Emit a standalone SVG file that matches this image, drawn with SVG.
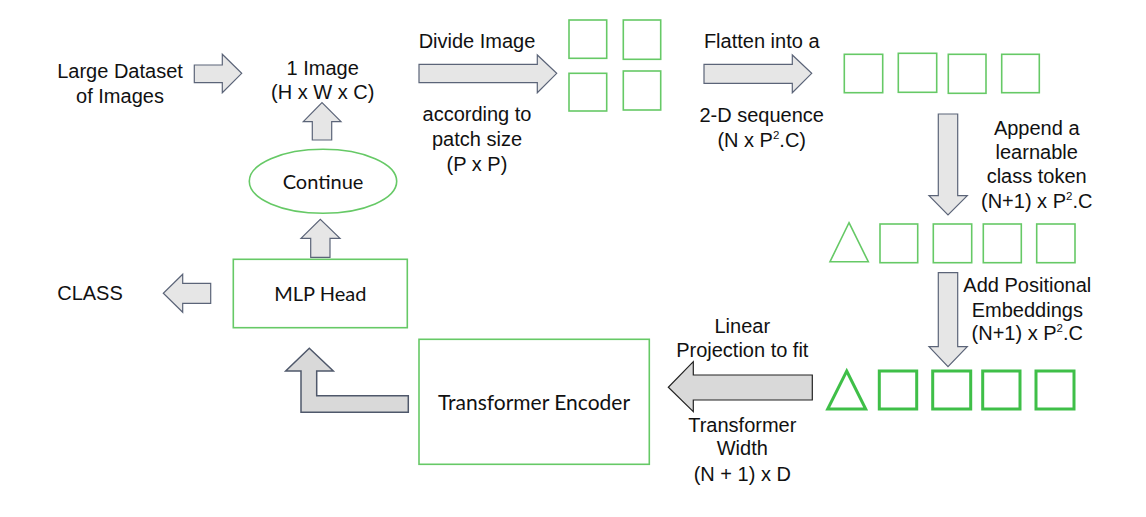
<svg xmlns="http://www.w3.org/2000/svg" width="1146" height="517" viewBox="0 0 1146 517">
<style>
.t{font-family:"Liberation Sans",Arial,sans-serif;font-size:20px;fill:#111;text-anchor:middle}
.c{font-family:Lato,"Liberation Sans",sans-serif;font-size:20px;fill:#111;text-anchor:middle}
.g{fill:none;stroke:#66c966;stroke-width:1.6}
.gb{fill:none;stroke:#3fbf48;stroke-width:3}
.ar{fill:#e6e6e6;stroke:#5b6478;stroke-width:1.2;stroke-linejoin:miter}
.ad{fill:#d9d9d9;stroke:#4f586b;stroke-width:1.5}
.ak{fill:#d9d9d9;stroke:#222;stroke-width:1.2}
</style>
<rect width="1146" height="517" fill="#fff"/>

<g id="connectors">
  <path class="ar" d="M194.3,65 H222.3 V54.3 L241.7,73.3 L222.3,92.7 V82.7 H194.3 Z"/>
  <path class="ar" d="M312.3,140 V121.7 H303.3 L322,102.7 L341,121.7 H331.7 V140 Z"/>
  <path class="ar" d="M310.7,257.3 V238.3 H301 L320.3,219.3 L340,238.3 H330 V257.3 Z"/>
  <path class="ar" d="M419,64.3 H537.3 V55 L556.7,73.3 L537.3,92.7 V82.7 H419 Z"/>
  <path class="ar" d="M704,64.3 H792.3 V55 L811.7,73.3 L792.3,92.7 V83.3 H704 Z"/>
  <path class="ar" d="M938.3,114 H957.7 V195.7 H967.3 L948,215 L929,195.7 H938.3 Z"/>
  <path class="ar" d="M938.3,272.7 H957.7 V346.7 H967.3 L948,366.7 L929,346.7 H938.3 Z"/>
  <path class="ar" d="M210.7,283.3 V303.3 H182.7 V312.3 L163.3,293.3 L182.7,274.3 V283.3 Z"/>
  <path class="ak" d="M812.3,375 V400 H693.3 V411.7 L668.3,387.3 L693.3,361.7 V375 Z"/>
  <path class="ad" d="M408.3,395.7 V412.3 H301 V371 H285.7 L309.3,348.3 L333.3,371 H316.7 V395.7 Z"/>
</g>

<g id="dataset">
  <text class="t" x="120" y="78">Large Dataset</text>
  <text class="t" x="120" y="103">of Images</text>
</g>

<g id="image">
  <text class="t" x="322.7" y="75">1 Image</text>
  <text class="t" x="322.7" y="99.3">(H x W x C)</text>
</g>

<g id="continue">
  <ellipse cx="323" cy="181.3" rx="73.7" ry="32" fill="none" stroke="#66c966" stroke-width="1.6"/>
  <text class="c" x="323" y="188.5">Continue</text>
</g>

<g id="divide-label">
  <text class="t" x="477" y="47.7">Divide Image</text>
  <text class="t" x="477" y="121">according to</text>
  <text class="t" x="477" y="146">patch size</text>
  <text class="t" x="477" y="171">(P x P)</text>
</g>

<g id="patches">
  <rect class="g" x="569" y="20" width="37.7" height="38.3"/>
  <rect class="g" x="623.3" y="20" width="37.4" height="39.3"/>
  <rect class="g" x="569" y="73.3" width="37.7" height="37.7"/>
  <rect class="g" x="623.3" y="71" width="37.4" height="39"/>
</g>

<g id="flatten-label">
  <text class="t" x="761.7" y="47.7">Flatten into a</text>
  <text class="t" x="761.7" y="121.7">2-D sequence</text>
  <text class="t" x="761.7" y="146.7">(N x P<tspan style="font-size:11.5px" dy="-8">2</tspan><tspan dy="8">.C)</tspan></text>
</g>

<g id="sequence">
  <rect class="g" x="844.3" y="54.3" width="38.4" height="38.4"/>
  <rect class="g" x="898.3" y="53.3" width="38.4" height="39"/>
  <rect class="g" x="948.3" y="54.3" width="37.7" height="39"/>
  <rect class="g" x="1001.7" y="54.3" width="37.6" height="38.4"/>
</g>

<g id="append-label">
  <text class="t" x="1036.7" y="135">Append a</text>
  <text class="t" x="1036.7" y="159.3">learnable</text>
  <text class="t" x="1036.7" y="183.3">class token</text>
  <text class="t" x="1036.7" y="208.3">(N+1) x P<tspan style="font-size:11.5px" dy="-8">2</tspan><tspan dy="8">.C</tspan></text>
</g>

<g id="tokens">
  <polygon class="g" points="849,222.7 868.3,261.7 830,261.7"/>
  <rect class="g" x="880" y="224" width="37.7" height="38.7"/>
  <rect class="g" x="933.3" y="224" width="38.4" height="38.7"/>
  <rect class="g" x="983.3" y="224" width="38" height="38.7"/>
  <rect class="g" x="1036.7" y="224" width="38.3" height="38.7"/>
</g>

<g id="positional-label">
  <text class="t" x="1027.3" y="291.7">Add Positional</text>
  <text class="t" x="1027.3" y="316.7">Embeddings</text>
  <text class="t" x="1027.3" y="340">(N+1) x P<tspan style="font-size:11.5px" dy="-8">2</tspan><tspan dy="8">.C</tspan></text>
</g>

<g id="embedded-tokens">
  <polygon class="gb" points="846.7,371 865.7,409 827.7,409"/>
  <rect class="gb" x="879.3" y="371" width="37.4" height="38"/>
  <rect class="gb" x="932.7" y="371" width="38" height="38"/>
  <rect class="gb" x="982.7" y="371" width="37.3" height="38"/>
  <rect class="gb" x="1036" y="371" width="38" height="38"/>
</g>

<g id="projection-label">
  <text class="t" x="742.3" y="333.3">Linear</text>
  <text class="t" x="742.3" y="357.3">Projection to fit</text>
  <text class="t" x="742.3" y="431.7">Transformer</text>
  <text class="t" x="742.3" y="455">Width</text>
  <text class="t" x="742.3" y="480.7">(N + 1) x D</text>
</g>

<g id="transformer">
  <rect x="419" y="339.3" width="230.3" height="125" fill="none" stroke="#66c966" stroke-width="1.6"/>
  <text class="c" x="534" y="410" style="font-size:21px">Transformer Encoder</text>
</g>

<g id="mlp">
  <rect x="233.3" y="259.3" width="174" height="68.4" fill="none" stroke="#66c966" stroke-width="1.6"/>
  <text class="c" x="320.3" y="301">MLP Head</text>
</g>

<g id="class">
  <text class="t" x="90" y="300">CLASS</text>
</g>
</svg>
